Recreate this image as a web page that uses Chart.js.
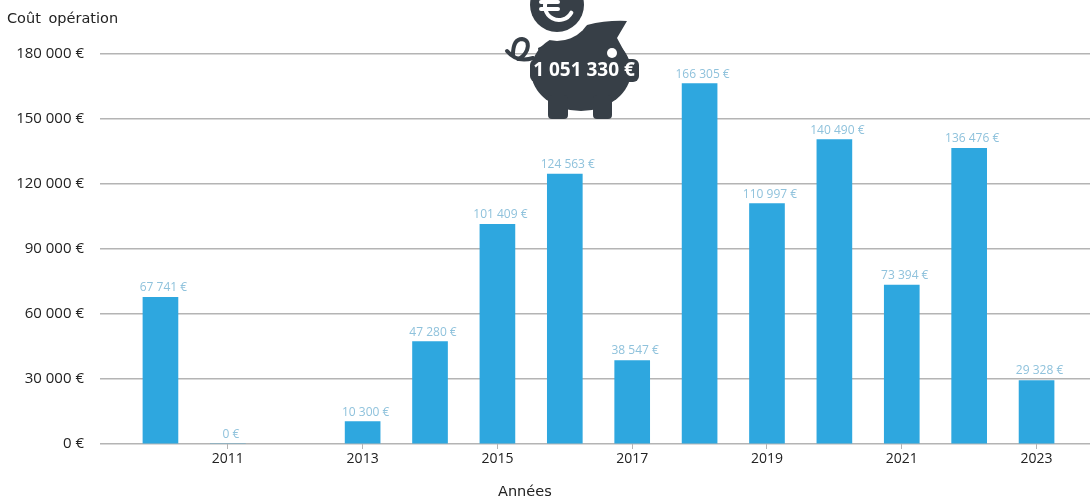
<!DOCTYPE html>
<html lang="fr">
<head>
    <meta charset="UTF-8">
    <title>Coût opération par année</title>
    <style>
        html, body { margin: 0; padding: 0; background: #fff; }
        canvas { display: block; }
    </style>
</head>
<body>
    <canvas id="costChart" width="1090" height="499"></canvas>

    <script src="https://cdn.jsdelivr.net/npm/chart.js"></script>
    <script>
        const years = [2010, 2011, 2012, 2013, 2014, 2015, 2016, 2017, 2018, 2019, 2020, 2021, 2022, 2023];
        const costs = [67741, 0, null, 10300, 47280, 101409, 124563, 38547, 166305, 110997, 140490, 73394, 136476, 29328];
        const yearTicks = [2011, 2013, 2015, 2017, 2019, 2021, 2023];
        const totalLabel = "1 051 330 €";
        const yTitle = "Coût opération";
        const xTitle = "Années";

        function euros(value) {
            return String(value).replace(/\B(?=(\d{3})+$)/g, " ") + " €";
        }

        // value labels above the bars
        const barLabels = {
            id: "barLabels",
            afterDatasetsDraw(chart) {
                const ctx = chart.ctx;
                const bars = chart.getDatasetMeta(0).data;
                ctx.save();
                ctx.font = "12px 'Open Sans'";
                ctx.fillStyle = "#8fc2dc";
                ctx.textAlign = "center";
                ctx.textBaseline = "alphabetic";
                costs.forEach((value, i) => {
                    if (value === null) return;
                    ctx.fillText(euros(value), bars[i].x + 3, bars[i].y - 6);
                });
                ctx.restore();
            }
        };

        const axisTitles = {
            id: "axisTitles",
            afterDraw(chart) {
                const ctx = chart.ctx;
                ctx.save();
                ctx.font = "14.5px 'DejaVu Sans'";
                ctx.fillStyle = "#222";
                ctx.textBaseline = "alphabetic";
                ctx.wordSpacing = "3px";
                ctx.fillText(yTitle, 7, 23);
                ctx.fillText(xTitle, 498, 496);
                ctx.restore();
            }
        };

        // piggy bank with the total on top
        const piggy = {
            id: "piggy",
            afterDraw(chart) {
                const ctx = chart.ctx;
                const dark = "#373f47";
                ctx.save();
                ctx.fillStyle = dark;

                ctx.beginPath();
                ctx.ellipse(581, 71, 50, 40, 0, 0, Math.PI * 2);
                ctx.fill();

                // ear and back
                ctx.beginPath();
                ctx.moveTo(538, 48);
                ctx.lineTo(587, 25);
                ctx.quadraticCurveTo(607, 20, 627, 21);
                ctx.lineTo(617, 38);
                ctx.lineTo(630, 62);
                ctx.lineTo(540, 62);
                ctx.closePath();
                ctx.fill();

                // legs
                ctx.beginPath();
                ctx.roundRect(548, 95, 20, 24, 4);
                ctx.roundRect(593, 95, 19, 24, 4);
                ctx.fill();

                // snout behind the total
                ctx.beginPath();
                ctx.roundRect(530, 59, 109, 23, 6);
                ctx.fill();

                // white gap round the coin
                ctx.fillStyle = "#fff";
                ctx.beginPath();
                ctx.arc(557, 5, 36, 0, Math.PI * 2);
                ctx.fill();

                // coin
                ctx.fillStyle = dark;
                ctx.beginPath();
                ctx.arc(557, 5, 27, 0, Math.PI * 2);
                ctx.fill();

                // euro sign on the coin
                ctx.strokeStyle = "#fff";
                ctx.lineWidth = 4;
                ctx.lineCap = "round";
                ctx.beginPath();
                ctx.arc(559, 6, 14, 0.5, 4.9);
                ctx.stroke();
                ctx.beginPath();
                ctx.moveTo(541, 2);
                ctx.lineTo(558, 2);
                ctx.moveTo(541, 9);
                ctx.lineTo(558, 9);
                ctx.stroke();

                // tail
                ctx.strokeStyle = dark;
                ctx.lineWidth = 4;
                ctx.beginPath();
                ctx.moveTo(507, 51);
                ctx.quadraticCurveTo(517, 63, 533, 58);
                ctx.moveTo(513, 55);
                ctx.quadraticCurveTo(513, 39, 522, 39);
                ctx.quadraticCurveTo(530, 40, 527, 50);
                ctx.quadraticCurveTo(524, 57, 518, 59);
                ctx.stroke();

                // eye
                ctx.fillStyle = "#fff";
                ctx.beginPath();
                ctx.arc(612, 53, 5, 0, Math.PI * 2);
                ctx.fill();

                ctx.font = "bold 19px 'Open Sans'";
                ctx.textAlign = "center";
                ctx.textBaseline = "middle";
                ctx.fillText(totalLabel, 584, 71);
                ctx.restore();
            }
        };

        new Chart(document.getElementById("costChart"), {
            type: "bar",
            data: {
                datasets: [{
                    data: years.map((year, i) => ({ x: year, y: costs[i] })),
                    backgroundColor: "#2ea7df",
                    barThickness: 35
                }]
            },
            options: {
                responsive: false,
                animation: false,
                layout: { padding: { top: 54, left: 0, right: 0, bottom: 0 } },
                plugins: { legend: { display: false }, tooltip: { enabled: false } },
                scales: {
                    x: {
                        type: "linear",
                        offset: false,
                        min: 2009.103,
                        max: 2023.793,
                        afterBuildTicks(scale) {
                            scale.ticks = yearTicks.map(value => ({ value }));
                        },
                        afterFit(scale) {
                            scale.height = 55;
                        },
                        grid: {
                            offset: false,
                            drawOnChartArea: false,
                            tickLength: 5,
                            tickColor: "#b4b4b4"
                        },
                        border: { display: false },
                        ticks: {
                            autoSkip: false,
                            maxRotation: 0,
                            padding: 2,
                            color: "#222",
                            font: { family: "'Open Sans'", size: 14 },
                            callback: value => String(value)
                        }
                    },
                    y: {
                        min: 0,
                        max: 180000,
                        afterFit(scale) {
                            scale.width = 100;
                        },
                        grid: { color: "#b4b4b4", lineWidth: 1.5, drawTicks: false },
                        border: { display: false },
                        ticks: {
                            stepSize: 30000,
                            padding: 16,
                            color: "#222",
                            font: { family: "'Open Sans'", size: 15 },
                            callback: value => euros(value)
                        }
                    }
                }
            },
            plugins: [barLabels, axisTitles, piggy]
        });
    </script>
</body>
</html>
